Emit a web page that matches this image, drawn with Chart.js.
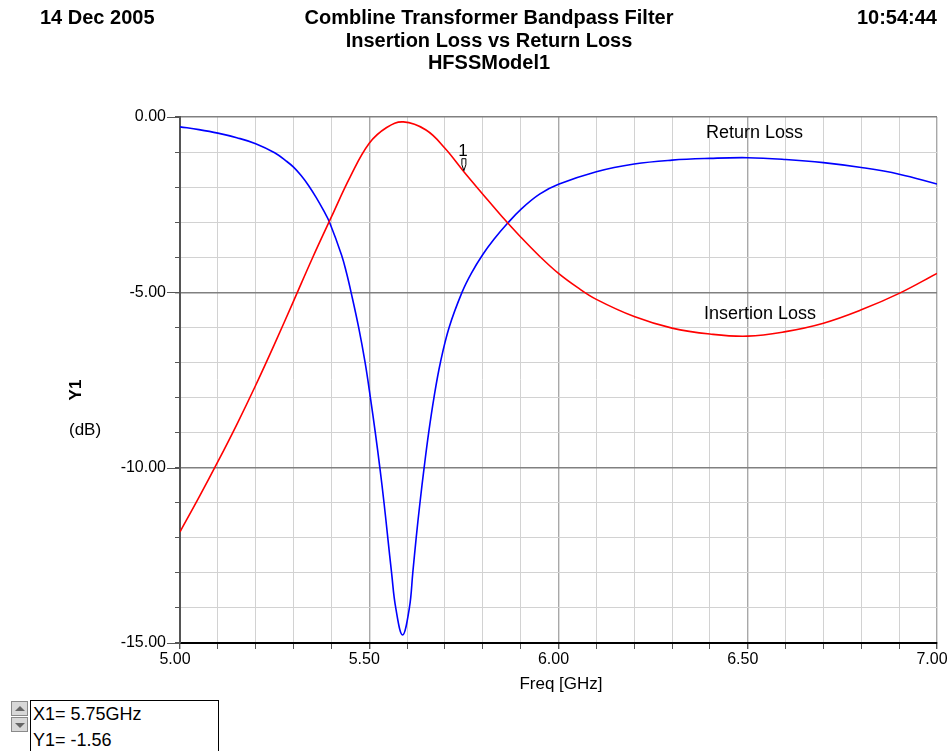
<!DOCTYPE html>
<html>
<head>
<meta charset="utf-8">
<script src="https://cdn.jsdelivr.net/npm/chart.js@4.4.0/dist/chart.umd.min.js"></script>
<style>
  body { margin: 0; background: #fff; font-family: "Liberation Sans", Arial, sans-serif; }
  #wrap { position: relative; width: 951px; height: 751px; overflow: hidden; }
  #chart { position: absolute; left: 0; top: 0; }
  .t { position: absolute; white-space: nowrap; color: #000; }
  .hd { font-weight: bold; font-size: 20px; line-height: 20px; }
  .c { transform: translateX(-50%); }
  #readout { position: absolute; left: 30px; top: 700px; width: 187px; height: 60px; border: 1px solid #000; background: #fff; }
  #readout div { font-size: 18px; line-height: 26px; padding-left: 2px; }
  .btn { position: absolute; left: 11px; width: 17px; height: 15px; background: #d8d8d8; border: 1px solid #8a8a8a; box-sizing: border-box; }
  .btn span { position: absolute; left: 3px; width: 0; height: 0; border-left: 5px solid transparent; border-right: 5px solid transparent; }
</style>
</head>
<body>
<div id="wrap">
  <canvas id="chart" width="951" height="751"></canvas>

  <div class="t hd" style="left:40px; top:7px;">14 Dec 2005</div>
  <div class="t hd c" style="left:489px; top:7px;">Combline Transformer Bandpass Filter</div>
  <div class="t hd c" style="left:489px; top:30px;">Insertion Loss vs Return Loss</div>
  <div class="t hd c" style="left:489px; top:52px;">HFSSModel1</div>
  <div class="t hd" style="right:14px; top:7px;">10:54:44</div>

  <div class="t" style="left:66px; top:380px; font-weight:bold; font-size:17px; transform:rotate(-90deg);">Y1</div>
  <div class="t" style="left:69px; top:420px; font-size:17px;">(dB)</div>
  <div class="t c" style="left:561px; top:674px; font-size:17px;">Freq [GHz]</div>

  <div class="t" style="left:706px; top:122px; font-size:18px;">Return Loss</div>
  <div class="t" style="left:704px; top:303px; font-size:18px;">Insertion Loss</div>

  <div class="btn" style="top:701px;"><span style="top:4px; border-bottom:5px solid #666;"></span></div>
  <div class="btn" style="top:717px;"><span style="top:5px; border-top:5px solid #666;"></span></div>
  <div id="readout">
    <div>X1= 5.75GHz</div>
    <div>Y1= -1.56</div>
  </div>
</div>

<script>
// Insertion loss (red)
const irFreq = [5.00, 5.05, 5.10, 5.15, 5.20, 5.25, 5.30, 5.35, 5.40, 5.45, 5.50, 5.546, 5.59, 5.65, 5.70,
  5.75, 5.80, 5.85, 5.90, 5.95, 6.00, 6.05, 6.10, 6.20, 6.30, 6.40, 6.50, 6.60, 6.70, 6.80, 6.90, 7.00];
const irLoss = [-11.83, -10.85, -9.83, -8.77, -7.65, -6.47, -5.25, -4.02, -2.85, -1.70, -0.75, -0.30, -0.14, -0.37, -0.89,
  -1.56, -2.20, -2.83, -3.42, -3.97, -4.46, -4.86, -5.20, -5.69, -6.02, -6.19, -6.25, -6.12, -5.88, -5.50, -5.03, -4.46];

// Return loss (blue)
const rlFreq = [5.00, 5.05, 5.10, 5.15, 5.20, 5.25, 5.28, 5.30, 5.32, 5.34, 5.36, 5.38, 5.395, 5.427, 5.44, 5.452, 5.472, 5.489, 5.503,
  5.516, 5.528, 5.539, 5.549, 5.559, 5.570, 5.588, 5.606, 5.615, 5.624, 5.634, 5.645, 5.657, 5.671, 5.688,
  5.711, 5.745, 5.77, 5.80, 5.83, 5.863, 5.90, 5.95, 6.00, 6.10, 6.20, 6.30, 6.40, 6.50, 6.60, 6.70, 6.80, 6.90, 7.00];
const rlLoss = [-0.28, -0.36, -0.46, -0.59, -0.76, -1.02, -1.25, -1.43, -1.67, -1.96, -2.30, -2.68, -3.00, -3.94, -4.45, -5.0, -6.0, -7.0, -8.0,
  -9.0, -10.0, -11.0, -12.0, -13.0, -14.0, -14.77, -14.0, -13.0, -12.0, -11.0, -10.0, -9.0, -8.0, -7.0,
  -6.0, -5.0, -4.45, -3.92, -3.48, -3.06, -2.64, -2.20, -1.92, -1.56, -1.34, -1.23, -1.18, -1.16, -1.21, -1.30, -1.44, -1.63, -1.91];

const markerX = 5.75;
const markerY = -1.56;
const yMajor = [0, -5, -10, -15];

const toPoints = (xs, ys) => xs.map((x, i) => ({ x, y: ys[i] }));

const isMult = (v, step) => Math.abs(v / step - Math.round(v / step)) < 1e-6;

// longer ticks joining the major y labels to the axis, plus the marker "1"
const extras = {
  id: 'extras',
  afterDatasetsDraw(chart) {
    const { ctx, scales: { x, y } } = chart;
    ctx.save();
    ctx.strokeStyle = '#555';
    ctx.lineWidth = 1;
    yMajor.forEach(v => {
      const py = Math.round(y.getPixelForValue(v)) + 0.5;
      ctx.beginPath();
      ctx.moveTo(x.left - 13, py);
      ctx.lineTo(x.left, py);
      ctx.stroke();
    });

    const px = x.getPixelForValue(markerX);
    const py = y.getPixelForValue(markerY);
    ctx.fillStyle = '#000';
    ctx.font = '17px "Liberation Sans", Arial, sans-serif';
    ctx.textAlign = 'center';
    ctx.textBaseline = 'bottom';
    ctx.fillText('1', px - 1, py - 12);
    ctx.strokeStyle = '#000';
    ctx.fillStyle = '#fff';
    ctx.beginPath();
    ctx.moveTo(px - 2, py - 13);
    ctx.lineTo(px + 2, py - 13);
    ctx.lineTo(px + 2, py - 7);
    ctx.lineTo(px, py - 1);
    ctx.lineTo(px - 2, py - 7);
    ctx.closePath();
    ctx.fill();
    ctx.stroke();
    ctx.restore();
  }
};

new Chart(document.getElementById('chart'), {
  type: 'line',
  data: {
    datasets: [
      {
        label: 'Insertion Loss',
        data: toPoints(irFreq, irLoss),
        borderColor: '#ff0000',
        borderWidth: 1.6,
        pointRadius: 0,
        tension: 0.4
      },
      {
        label: 'Return Loss',
        data: toPoints(rlFreq, rlLoss),
        borderColor: '#0000ff',
        borderWidth: 1.6,
        pointRadius: 0,
        tension: 0.4
      }
    ]
  },
  options: {
    responsive: false,
    animation: false,
    layout: { padding: { top: 117, right: 14, bottom: 78, left: 0 } },
    plugins: { legend: { display: false }, tooltip: { enabled: false } },
    scales: {
      x: {
        type: 'linear',
        min: 5, max: 7,
        afterFit: s => { s.height = 30; s.paddingLeft = 0; s.paddingRight = 0; },
        border: { color: '#000', width: 2 },
        grid: {
          color: c => isMult(c.tick.value, 0.5) ? '#a8a8a8' : '#d2d2d2',
          lineWidth: c => isMult(c.tick.value, 0.5) ? 1.4 : 1,
          tickColor: '#555',
          tickLength: 6
        },
        ticks: {
          stepSize: 0.1,
          autoSkip: false,
          maxRotation: 0,
          padding: 1,
          labelOffset: -5,
          color: '#000',
          font: { family: '"Liberation Sans", Arial, sans-serif', size: 16 },
          callback: v => isMult(v, 0.5) ? v.toFixed(2) : ''
        }
      },
      y: {
        min: -15, max: 0,
        afterFit: s => { s.width = 180; s.paddingTop = 0; s.paddingBottom = 0; },
        border: { color: '#555', width: 2 },
        grid: {
          color: c => isMult(c.tick.value, 5) ? '#808080' : '#d2d2d2',
          lineWidth: c => isMult(c.tick.value, 5) ? 1.4 : 1,
          tickColor: '#555',
          tickLength: 5
        },
        ticks: {
          stepSize: 1,
          autoSkip: false,
          padding: 9,
          color: '#000',
          font: { family: '"Liberation Sans", Arial, sans-serif', size: 16 },
          callback: v => isMult(v, 5) ? v.toFixed(2) : ''
        }
      }
    }
  },
  plugins: [extras]
});
</script>
</body>
</html>
